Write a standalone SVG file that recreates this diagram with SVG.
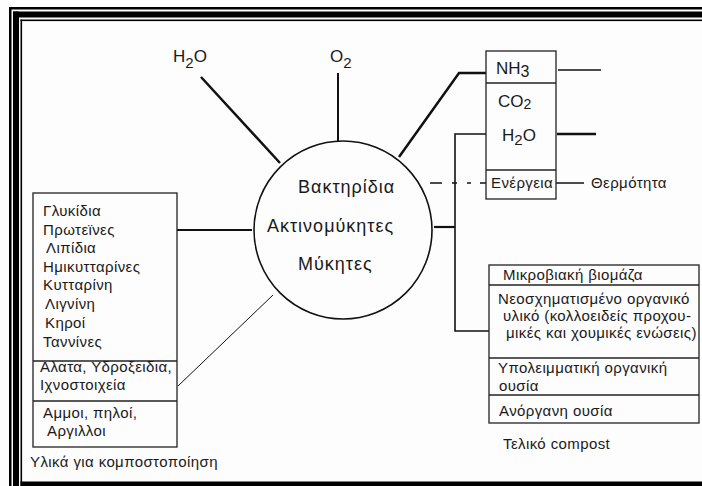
<svg xmlns="http://www.w3.org/2000/svg" width="702" height="486" viewBox="0 0 702 486">
<style>
text{font-family:"Liberation Sans","Noto Sans",sans-serif;fill:#1a1a1a}
.t{font-size:15px;letter-spacing:0.4px}
.c{font-size:18px;letter-spacing:1px}
.g{font-size:17px}
.box{fill:none;stroke:#222;stroke-width:1.3}
.ln{stroke:#111;fill:none}
</style>
<rect width="702" height="486" fill="#fdfdfd"/>
<g id="frame" fill="#000">
<rect x="9" y="7" width="693" height="2.5"/>
<rect x="9" y="7" width="2.5" height="479"/>
<rect x="13" y="11.5" width="689" height="6"/>
<rect x="13" y="11.5" width="6" height="474.5"/>
<rect x="20.5" y="19.5" width="681.5" height="1.6"/>
<rect x="20.5" y="19.5" width="1.6" height="466.5"/>
<rect x="20.5" y="481.5" width="681.5" height="4.5"/>
</g>
<g id="connectors" class="ln">
<line x1="201" y1="77" x2="280" y2="163" stroke-width="2.5"/>
<line x1="338" y1="73" x2="338" y2="141" stroke-width="2"/>
<polyline points="399,157 459,73 486,73" stroke-width="2.5"/>
<line x1="558" y1="70" x2="601" y2="70" stroke-width="1.3"/>
<line x1="557" y1="134" x2="596" y2="134" stroke-width="2.5"/>
<line x1="556" y1="183" x2="584" y2="183" stroke-width="1.5"/>
<line x1="430" y1="183" x2="486" y2="183" stroke-width="1.3" stroke-dasharray="12 10 5 10 4 9 6"/>
<polyline points="486,134 455,134 455,331 489,331" stroke-width="1.6"/>
<line x1="434" y1="227" x2="455" y2="227" stroke-width="2.2"/>
<line x1="177" y1="230" x2="252" y2="230" stroke-width="1.8"/>
<line x1="178" y1="386" x2="273" y2="295" stroke-width="1"/>
</g>
<g id="h2o-top"><text class="g" x="173" y="62">H<tspan dy="6" font-size="15">2</tspan><tspan dy="-6">O</tspan></text></g>
<g id="o2-top"><text class="g" x="330" y="62">O<tspan dy="6" font-size="15">2</tspan></text></g>
<g id="microbes">
<circle cx="343" cy="230" r="89" fill="none" stroke="#111" stroke-width="1.6"/>
<text class="c" x="298" y="193">Βακτηρίδια</text>
<text class="c" x="267" y="232">Ακτινομύκητες</text>
<text class="c" x="298" y="270">Μύκητες</text>
</g>
<g id="gases">
<rect class="box" x="486" y="51" width="70" height="148"/>
<line class="box" x1="486" y1="83" x2="556" y2="83"/>
<line class="box" x1="486" y1="170" x2="556" y2="170"/>
<text class="g" x="496" y="74">NH<tspan dy="3" font-size="16">3</tspan></text>
<text class="g" x="498" y="107">CO<tspan dy="2" font-size="14">2</tspan></text>
<text class="g" x="502" y="141">H<tspan dy="4" font-size="15">2</tspan><tspan dy="-4">O</tspan></text>
<text class="t" x="491" y="188">Ενέργεια</text>
</g>
<g id="heat"><text class="t" x="591" y="188">Θερμότητα</text></g>
<g id="inputs">
<rect class="box" x="33" y="193" width="144" height="254"/>
<line class="box" x1="33" y1="361" x2="177" y2="361"/>
<line class="box" x1="33" y1="401" x2="177" y2="401"/>
<text class="t" x="43" y="216">Γλυκίδια</text>
<text class="t" x="43" y="235">Πρωτεϊνες</text>
<text class="t" x="46" y="253">Λιπίδια</text>
<text class="t" x="43" y="272">Ημικυτταρίνες</text>
<text class="t" x="43" y="290">Κυτταρίνη</text>
<text class="t" x="45" y="309">Λιγνίνη</text>
<text class="t" x="45" y="328">Κηροί</text>
<text class="t" x="43" y="347">Ταννίνες</text>
<text class="t" x="40" y="372">Αλατα, Υδροξειδια,</text>
<text class="t" x="40" y="390">Ιχνοστοιχεία</text>
<text class="t" x="43" y="418">Αμμοι, πηλοί,</text>
<text class="t" x="47" y="436">Αργιλλοι</text>
<text class="t" x="30" y="467">Υλικά για κομποστοποίηση</text>
</g>
<g id="compost">
<rect class="box" x="489" y="265" width="210" height="158"/>
<line class="box" x1="489" y1="285" x2="699" y2="285"/>
<line class="box" x1="489" y1="358" x2="699" y2="358"/>
<line class="box" x1="489" y1="395" x2="699" y2="395"/>
<text class="t" x="503" y="280">Μικροβιακή βιομάζα</text>
<text class="t" x="498" y="304">Νεοσχηματισμένο οργανικό</text>
<text class="t" x="503" y="321">υλικό (κολλοειδείς προχου-</text>
<text class="t" x="506" y="338">μικές και χουμικές  ενώσεις)</text>
<text class="t" x="498" y="373">Υπολειμματική οργανική</text>
<text class="t" x="499" y="391">ουσία</text>
<text class="t" x="499" y="416">Ανόργανη ουσία</text>
<text class="t" x="503" y="449">Τελικό compost</text>
</g>
</svg>
